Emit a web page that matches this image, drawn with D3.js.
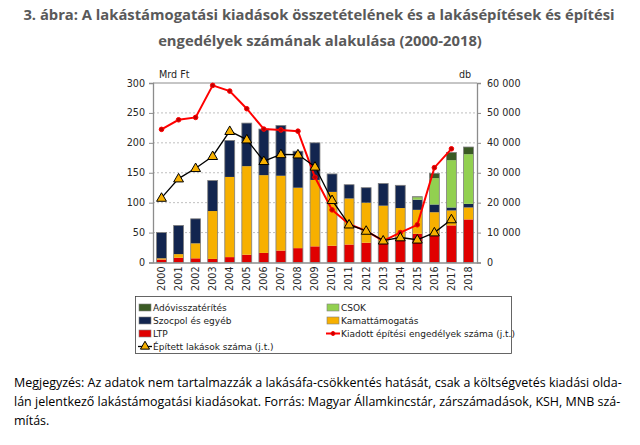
<!DOCTYPE html>
<html><head><meta charset="utf-8">
<script src="https://cdn.jsdelivr.net/npm/d3@7"></script>
<style>body{margin:0;background:#fff}svg{display:block}</style>
</head><body>
<svg id="c" width="640" height="445"></svg>
<script>
const years = ["2000","2001","2002","2003","2004","2005","2006","2007","2008","2009","2010","2011","2012","2013","2014","2015","2016","2017","2018"];
const ltp     = [5,8,7,6,9,13,16,20,24,27,28,30,33,31,38,48,47,62,72];
const kamatt  = [2,6,25,80,134,148,130,125,101,111,90,77,67,64,53,40,37,25,20];
const szocpol = [43,48,41,51,61,72,77,84,61,62,30,23,25,37,38,17,13,5,6];
const csok    = [0,0,0,0,0,0,0,0,0,0,0,0,0,0,0,4,44,79,83];
const ado     = [0,0,0,0,0,0,0,0,0,0,0,0,0,0,0,1,8,13,12];
const permits = [44500,47700,48500,59200,57300,51400,44600,44300,43900,28500,17600,12800,10600,7200,10000,12600,31700,38000,null];
const built   = [21583,28054,31511,35543,43913,41084,33864,36159,36075,31994,20823,12655,10560,7293,8358,7612,10007,14389,null];
const leftTicks = [0,50,100,150,200,250,300];
const rightTicks = [0,10000,20000,30000,40000,50000,60000];

const svg = d3.select("#c");
const L = 153, R = 477, T = 83, B = 262.5;
const x = d3.scaleBand().domain(years).range([L, R]).paddingInner(0.42).paddingOuter(0.21);
const yL = d3.scaleLinear().domain([0,300]).range([B, T]);
const yR = d3.scaleLinear().domain([0,60000]).range([B, T]);
const rfmt = v => v === 0 ? "0" : d3.format(",")(v).replace(/,/g, " ");

// fit text to a width by adjusting font size (keeps natural width inside the page)
function fitText(sel, width, maxSize){
  sel.attr("font-size", maxSize);
  const w = sel.node().getComputedTextLength();
  if (w > width) sel.attr("font-size", maxSize * width / w);
}

// Title
const title = svg.append("g").attr("font-family","'Open Sans', sans-serif").attr("font-weight","bold")
  .attr("fill","#595959").attr("text-anchor","middle");
const t1 = title.append("text").attr("x",319).attr("y",20)
  .text("3. ábra: A lakástámogatási kiadások összetételének és a lakásépítések és építési");
fitText(t1, 592, 15.5);
const t2 = title.append("text").attr("x",320).attr("y",46)
  .text("engedélyek számának alakulása (2000-2018)");
t2.attr("font-size", t1.attr("font-size"));

// gridlines
svg.append("g").selectAll("line").data(leftTicks.filter(d=>d>0 && d<300)).join("line")
  .attr("x1",L).attr("x2",R).attr("y1",d=>yL(d)).attr("y2",d=>yL(d))
  .attr("stroke","#bfbfbf").attr("stroke-width",1).attr("stroke-dasharray","2,2");
svg.append("line").attr("x1",L).attr("x2",R).attr("y1",T).attr("y2",T).attr("stroke","#8c8c8c");

// Bars
const series = [
  {key:"LTP", vals:ltp, color:"#e00000"},
  {key:"Kamattámogatás", vals:kamatt, color:"#f7b000"},
  {key:"Szocpol és egyéb", vals:szocpol, color:"#12254f"},
  {key:"CSOK", vals:csok, color:"#92d050"},
  {key:"Adóvisszatérítés", vals:ado, color:"#3a5a24"}
];
const rows = years.map((y,i)=>{const o={year:y}; series.forEach(s=>o[s.key]=s.vals[i]); return o;});
const stack = d3.stack().keys(series.map(s=>s.key))(rows);
svg.append("g").selectAll("g").data(stack).join("g")
  .attr("fill",(d,i)=>series[i].color)
  .selectAll("rect").data(d=>d).join("rect")
  .attr("x",d=>x(d.data.year)).attr("width",x.bandwidth())
  .attr("y",d=>yL(d[1])).attr("height",d=>Math.max(0,yL(d[0])-yL(d[1])));
const total = d => series.reduce((a,s)=>a+d[s.key],0);
svg.append("g").selectAll("rect").data(rows).join("rect")
  .attr("x",d=>x(d.year)).attr("width",x.bandwidth())
  .attr("y",d=>yL(total(d))).attr("height",d=>B-yL(total(d)))
  .attr("fill","none").attr("stroke","#7f7f7f").attr("stroke-width",0.8);

// Axes
const axisFont = "'DejaVu Sans', sans-serif";
const gL = svg.append("g").attr("transform",`translate(${L},0)`)
  .call(d3.axisLeft(yL).tickValues(leftTicks).tickSize(4).tickPadding(4));
const gR = svg.append("g").attr("transform",`translate(${R},0)`)
  .call(d3.axisRight(yR).tickValues(rightTicks).tickSize(4).tickPadding(6).tickFormat(rfmt));
const gX = svg.append("g").attr("transform",`translate(0,${B})`)
  .call(d3.axisBottom(x).tickSize(0).tickPadding(0));
[gL,gR,gX].forEach(g=>{
  g.selectAll("path.domain").attr("stroke","#8c8c8c").attr("stroke-width",1.3);
  g.selectAll(".tick line").attr("stroke","#8c8c8c");
  g.selectAll("text").attr("font-family",axisFont).attr("font-size",9.6).attr("fill","#262626");
});
gX.selectAll(".tick text").attr("transform","rotate(-90)").attr("text-anchor","end")
  .attr("x",-4).attr("y",0).attr("dy","0.35em");

svg.append("text").attr("x",159).attr("y",78).attr("font-family",axisFont).attr("font-size",9.6).attr("fill","#262626").text("Mrd Ft");
svg.append("text").attr("x",459).attr("y",78).attr("font-family",axisFont).attr("font-size",9.6).attr("fill","#262626").text("db");

// Lines
const cx = d => x(d) + x.bandwidth()/2;
const permitPts = years.map((y,i)=>({y, v:permits[i]})).filter(d=>d.v!=null);
const builtPts = years.map((y,i)=>({y, v:built[i]})).filter(d=>d.v!=null);
const line = d3.line().x(d=>cx(d.y)).y(d=>yR(d.v));
svg.append("path").datum(permitPts).attr("d",line).attr("fill","none").attr("stroke","#ff0000").attr("stroke-width",2);
svg.append("g").selectAll("circle").data(permitPts).join("circle")
  .attr("cx",d=>cx(d.y)).attr("cy",d=>yR(d.v)).attr("r",2.3)
  .attr("fill","#c00000").attr("stroke","#ff0000").attr("stroke-width",1);
svg.append("path").datum(builtPts).attr("d",line).attr("fill","none").attr("stroke","#000").attr("stroke-width",1.3);
const tri = d3.symbol().type(d3.symbolTriangle).size(42);
svg.append("g").selectAll("path").data(builtPts).join("path")
  .attr("d",tri).attr("transform",d=>`translate(${cx(d.y)},${yR(d.v)+0.5})`)
  .attr("fill","#f7b000").attr("stroke","#000").attr("stroke-width",1);

// Legend
const lg = svg.append("g");
lg.append("rect").attr("x",135.5).attr("y",296.5).attr("width",376).attr("height",57)
  .attr("fill","#fff").attr("stroke","#404040").attr("stroke-width",0.8);
const legItems = [
  {label:"Adóvisszatérítés", type:"bar", color:"#3a5a24", col:0, row:0},
  {label:"CSOK", type:"bar", color:"#92d050", col:1, row:0},
  {label:"Szocpol és egyéb", type:"bar", color:"#12254f", col:0, row:1},
  {label:"Kamattámogatás", type:"bar", color:"#f7b000", col:1, row:1},
  {label:"LTP", type:"bar", color:"#e00000", col:0, row:2},
  {label:"Kiadott építési engedélyek száma (j.t.)", type:"red", col:1, row:2},
  {label:"Épített lakások száma (j.t.)", type:"black", col:0, row:3}
];
const colX = [138, 326];
legItems.forEach(it=>{
  const gx = colX[it.col], gy = 307.5 + it.row*13;
  const g = lg.append("g");
  if(it.type==="bar"){
    g.append("rect").attr("x",gx+1).attr("y",gy-3.5).attr("width",12).attr("height",7)
      .attr("fill",it.color).attr("stroke","#7f7f7f").attr("stroke-width",0.6);
  } else if(it.type==="red"){
    g.append("line").attr("x1",gx).attr("x2",gx+14).attr("y1",gy).attr("y2",gy).attr("stroke","#ff0000").attr("stroke-width",2);
    g.append("circle").attr("cx",gx+7).attr("cy",gy).attr("r",2).attr("fill","#c00000").attr("stroke","#ff0000");
  } else {
    g.append("line").attr("x1",gx).attr("x2",gx+14).attr("y1",gy).attr("y2",gy).attr("stroke","#000").attr("stroke-width",1.3);
    g.append("path").attr("d",d3.symbol().type(d3.symbolTriangle).size(36)).attr("transform",`translate(${gx+7},${gy})`)
      .attr("fill","#f7b000").attr("stroke","#000");
  }
  g.append("text").attr("x",gx+15).attr("y",gy).attr("dy","0.35em")
    .attr("font-family",axisFont).attr("font-size",9).attr("fill","#1a1a1a").text(it.label);
});

// Footnote
const fn = svg.append("g").attr("font-family","'Open Sans', sans-serif").attr("fill","#000");
const f1 = fn.append("text").attr("x",14).attr("y",387)
  .text("Megjegyzés: Az adatok nem tartalmazzák a lakásáfa-csökkentés hatását, csak a költségvetés kiadási olda-");
fitText(f1, 608, 12.5);
const fs = f1.attr("font-size");
const f2 = fn.append("text").attr("x",14).attr("y",406).attr("font-size",fs)
  .text("lán jelentkező lakástámogatási kiadásokat. Forrás: Magyar Államkincstár, zárszámadások, KSH, MNB szá-");
if (f2.node().getComputedTextLength() < 600) f2.attr("textLength",600).attr("lengthAdjust","spacing");
fn.append("text").attr("x",14).attr("y",425).attr("font-size",fs).text("mítás.");
</script>
</body></html>
